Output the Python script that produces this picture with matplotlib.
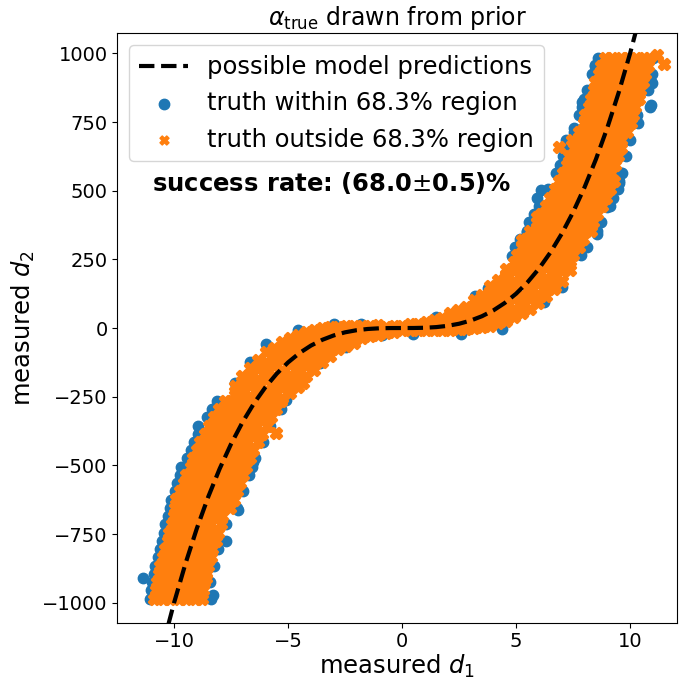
import matplotlib
matplotlib.use("Agg")
import matplotlib.pyplot as plt

# Model curve d2 = alpha * d1^3 (alpha = 1), tabulated
curve_d1 = [-10.5, -10.0, -9.5, -9.0, -8.5, -8.0, -7.5, -7.0, -6.5, -6.0, -5.5,
            -5.0, -4.5, -4.0, -3.5, -3.0, -2.5, -2.0, -1.5, -1.0, -0.5, 0.0,
            0.5, 1.0, 1.5, 2.0, 2.5, 3.0, 3.5, 4.0, 4.5, 5.0, 5.5, 6.0, 6.5,
            7.0, 7.5, 8.0, 8.5, 9.0, 9.5, 10.0, 10.5]
curve_d2 = [-1157.6, -1000.0, -857.4, -729.0, -614.1, -512.0, -421.9, -343.0,
            -274.6, -216.0, -166.4, -125.0, -91.1, -64.0, -42.9, -27.0, -15.6,
            -8.0, -3.4, -1.0, -0.1, 0.0, 0.1, 1.0, 3.4, 8.0, 15.6, 27.0, 42.9,
            64.0, 91.1, 125.0, 166.4, 216.0, 274.6, 343.0, 421.9, 512.0, 614.1,
            729.0, 857.4, 1000.0, 1157.6]

# Truths outside the 68.3% region: upper branch rows {d2: [d1, ...]}
outside_upper = {
    985: [8.9, 9.22, 9.58, 9.9, 10.27, 10.6, 10.82],
    955: [8.72, 9.08, 9.41, 9.77, 10.12, 10.46, 10.78],
    925: [8.63, 8.97, 9.33, 9.66, 10.02, 10.37, 10.66],
    895: [8.48, 8.86, 9.18, 9.55, 9.91, 10.24, 10.58],
    865: [8.42, 8.74, 9.12, 9.46, 9.79, 10.16, 10.43],
    835: [8.28, 8.66, 8.98, 9.36, 9.71, 10.02, 10.38],
    805: [8.18, 8.51, 8.87, 9.19, 9.56, 9.92, 10.22],
    775: [8.02, 8.41, 8.74, 9.11, 9.44, 9.8, 10.12],
    745: [7.97, 8.28, 8.66, 8.99, 9.37, 9.68, 10.03],
    715: [7.78, 8.16, 8.49, 8.86, 9.19, 9.57, 9.88],
    685: [7.47, 7.81, 8.17, 8.49, 8.86, 9.21, 9.58],
    655: [7.52, 7.86, 8.19, 8.56, 8.89, 9.27, 9.58],
    625: [7.33, 7.72, 8.04, 8.41, 8.74, 9.12, 9.47],
    595: [7.22, 7.54, 7.92, 8.24, 8.61, 8.94, 9.33],
    565: [7.04, 7.41, 7.73, 8.11, 8.44, 8.82, 9.18],
    535: [6.87, 7.19, 7.57, 7.89, 8.27, 8.59, 8.98, 9.28],
    505: [6.72, 7.04, 7.42, 7.74, 8.12, 8.44, 8.81, 9.13],
    475: [6.48, 6.86, 7.18, 7.56, 7.88, 8.26, 8.58, 8.94],
    445: [6.32, 6.64, 7.02, 7.34, 7.72, 8.04, 8.42, 8.78],
    415: [6.08, 6.46, 6.78, 7.16, 7.48, 7.86, 8.18, 8.57],
    385: [5.92, 6.24, 6.62, 6.94, 7.32, 7.64, 8.02, 8.38],
    355: [5.62, 5.96, 6.28, 6.66, 6.98, 7.36, 7.68, 8.06, 8.28],
    325: [5.44, 5.82, 6.14, 6.52, 6.84, 7.22, 7.54, 7.93],
    295: [5.26, 5.58, 5.96, 6.28, 6.66, 6.98, 7.36, 7.74],
    265: [5.04, 5.42, 5.74, 6.12, 6.44, 6.82, 7.14, 7.48],
}

# Lower branch rows {d2: [d1, ...]}
outside_lower = {
    -985: [-10.86, -10.48, -10.16, -9.78, -9.46, -9.08, -8.76],
    -955: [-10.78, -10.46, -10.08, -9.76, -9.38, -9.06, -8.72],
    -925: [-10.74, -10.38, -10.06, -9.68, -9.36, -8.98, -8.68],
    -895: [-10.68, -10.36, -9.98, -9.66, -9.28, -8.96, -8.58],
    -865: [-10.62, -10.24, -9.92, -9.54, -9.22, -8.84, -8.52],
    -835: [-10.48, -10.16, -9.78, -9.46, -9.08, -8.76, -8.38],
    -805: [-10.42, -10.04, -9.72, -9.34, -9.02, -8.64, -8.32],
    -775: [-10.28, -9.96, -9.58, -9.26, -8.88, -8.56, -8.18],
    -745: [-10.22, -9.84, -9.52, -9.14, -8.82, -8.44, -8.06],
    -715: [-10.08, -9.76, -9.38, -9.06, -8.68, -8.36, -7.96],
    -685: [-10.02, -9.64, -9.32, -8.94, -8.62, -8.24, -7.88],
    -655: [-9.94, -9.62, -9.24, -8.92, -8.54, -8.22, -7.84, -7.56],
    -625: [-9.86, -9.48, -9.16, -8.78, -8.46, -8.08, -7.76, -7.38],
    -595: [-9.72, -9.34, -9.02, -8.64, -8.32, -7.94, -7.62, -7.24],
    -565: [-9.58, -9.26, -8.88, -8.56, -8.18, -7.86, -7.48, -7.12],
    -535: [-9.46, -9.08, -8.76, -8.38, -8.06, -7.68, -7.36, -6.96],
    -505: [-9.28, -8.96, -8.58, -8.26, -7.88, -7.56, -7.18, -6.86],
    -475: [-9.16, -8.78, -8.46, -8.08, -7.76, -7.38, -7.06, -6.68],
    -445: [-8.98, -8.66, -8.28, -7.96, -7.58, -7.26, -6.88, -6.52],
    -415: [-8.86, -8.48, -8.16, -7.78, -7.46, -7.08, -6.76, -6.34],
    -385: [-8.64, -8.32, -7.94, -7.62, -7.24, -6.92, -6.54, -6.16],
    -355: [-8.46, -8.08, -7.76, -7.38, -7.06, -6.68, -6.36, -5.94],
    -325: [-8.24, -7.92, -7.54, -7.22, -6.84, -6.52, -6.14, -5.76],
    -295: [-8.02, -7.64, -7.32, -6.94, -6.62, -6.24, -5.92, -5.52],
    -265: [-7.78, -7.46, -7.08, -6.76, -6.38, -6.06, -5.68, -5.32],
}

# Central section columns {d1: [d2, ...]}
outside_middle = {
    -7.35: [-244, -212],
    -7.0: [-238, -206, -174],
    -6.65: [-246, -212, -178, -144],
    -6.3: [-252, -218, -184, -150, -116],
    -5.95: [-258, -224, -190, -156, -122, -88],
    -5.6: [-242, -208, -174, -140, -106, -72],
    -5.25: [-254, -220, -186, -152, -118, -84, -50],
    -4.9: [-238, -204, -170, -136, -102, -68, -36],
    -4.55: [-216, -186, -153, -120, -88, -56, -24],
    -4.2: [-174, -140, -108, -76, -44, -14],
    -3.85: [-152, -126, -98, -68, -36, -6],
    -3.5: [-122, -94, -60, -30, -1],
    -3.15: [-102, -76, -52, -24, 4],
    -2.8: [-78, -50, -24, 5],
    -2.45: [-66, -42, -18, 6],
    -2.1: [-54, -33, -13, 8],
    -1.75: [-38, -16, 7],
    -1.4: [-30, -11, 8],
    -1.05: [-24, -7, 10],
    -0.7: [-17, 5],
    -0.35: [-13, 8],
    0.0: [-9, 9],
    0.35: [-7, 13],
    0.7: [-6, 15],
    1.05: [-9, 7, 23],
    1.4: [-8, 11, 29],
    1.75: [-7, 15, 37],
    2.1: [-6, 17, 37, 54],
    2.45: [-5, 21, 45, 66],
    2.8: [-3, 23, 49, 76],
    3.15: [-1, 27, 55, 81, 102],
    3.5: [3, 33, 63, 93, 122],
    3.85: [9, 39, 71, 101, 129, 152],
    4.2: [17, 47, 79, 111, 143, 174],
    4.55: [27, 59, 91, 123, 156, 189, 216],
    4.9: [39, 71, 105, 139, 173, 207, 241],
    5.25: [53, 87, 121, 155, 189, 223, 253],
    5.6: [71, 105, 139, 173, 207, 241],
    5.95: [91, 125, 159, 193, 227, 257],
    6.3: [115, 149, 183, 217, 251],
    6.65: [143, 177, 211, 245],
    7.0: [173, 207, 241],
    7.35: [211, 245],
}

# Scattered outliers outside the region
outside_extra_d1 = [11.18, 11.48, 6.9, 5.93, 5.27, 6.7, -5.52, -4.35, -9.9, -8.58]
outside_extra_d2 = [994, 962, 660, 405, 320, 150, -384, -201, -623, -911]

# Truths within the 68.3% region
within_upper = {
    985: [8.58, 11.0], 955: [8.46], 925: [8.32, 10.98], 895: [10.92],
    865: [8.12, 10.78], 835: [7.96], 805: [7.88, 10.86], 775: [7.76, 10.3],
    745: [10.36], 715: [7.52], 685: [7.18, 9.98], 655: [7.3],
    625: [7.06, 9.82], 595: [6.92], 565: [6.76, 9.62], 535: [9.52],
    505: [6.42, 9.46], 475: [5.9, 9.24], 445: [6.0, 9.1], 415: [5.78],
    385: [5.56, 8.72], 355: [5.46, 8.56], 325: [5.18], 295: [4.96, 8.1],
    265: [7.84],
}
within_lower = {
    -985: [-11.06, -8.36], -955: [-11.02], -925: [-10.96, -8.44], -895: [-10.9],
    -865: [-10.84, -8.26], -835: [-10.72], -805: [-10.62, -8.08],
    -775: [-10.54, -7.74], -745: [-10.46], -715: [-10.38, -7.72],
    -685: [-10.26], -655: [-10.2, -7.22], -625: [-10.12], -595: [-9.98, -6.98],
    -565: [-9.86], -535: [-9.72, -6.72], -505: [-9.7, -6.6],
    -475: [-9.42, -6.46], -445: [-9.26], -415: [-9.12, -6.08], -385: [-8.96],
    -355: [-8.94, -5.78], -325: [-8.56], -295: [-8.32, -5.3], -265: [-8.12],
}
within_middle = {
    -7.35: [-200], -6.65: [-124], -5.95: [-58], -5.1: [-262], -4.55: [-8],
    -3.6: [-128], -3.0: [14], -2.45: [-70], -1.8: [16], -0.9: [-24],
    0.5: [-22], 1.5: [40], 2.6: [-20], 3.2: [116], 3.75: [146], 4.4: [-2],
    4.8: [262], 5.5: [348], 6.22: [94], 7.0: [150],
}
within_extra_d1 = [-11.36, -8.29, 10.96, 10.9, 10.24, 9.77, 9.5, 9.65, 8.49,
                   8.48, 7.9, 7.54, 6.08, 8.99, 8.56, 7.54, -6.54, -9.6, -7.2,
                   -3.55]
within_extra_d2 = [-911, -972, 891, 812, 775, 732, 527, 563, 357, 957, 824,
                   727, 502, 442, 344, 277, -487, -511, -663, -123]

success_text = r"success rate: (68.0$\pm$0.5)%"

BLUE = "#1f77b4"
ORANGE = "#ff7f0e"


def from_rows(rows):
    xs, ys = [], []
    for d2, d1s in rows.items():
        for d1 in d1s:
            xs.append(d1)
            ys.append(d2)
    return xs, ys


def from_cols(cols):
    xs, ys = [], []
    for d1, d2s in cols.items():
        for d2 in d2s:
            xs.append(d1)
            ys.append(d2)
    return xs, ys


def collect(row_sets, col_sets, extra_x, extra_y):
    xs, ys = [], []
    for r in row_sets:
        a, b = from_rows(r)
        xs += a
        ys += b
    for c in col_sets:
        a, b = from_cols(c)
        xs += a
        ys += b
    return xs + list(extra_x), ys + list(extra_y)


in_x, in_y = collect([within_upper, within_lower], [within_middle],
                     within_extra_d1, within_extra_d2)
out_x, out_y = collect([outside_upper, outside_lower], [outside_middle],
                       outside_extra_d1, outside_extra_d2)

fig = plt.figure(figsize=(6.79, 6.79), dpi=100)
ax = fig.add_axes([0.1728, 0.0829, 0.824, 0.868])

ax.plot(curve_d1, curve_d2, ls="--", color="black", lw=3,
        label="possible model predictions", zorder=3)
ax.scatter(in_x, in_y, s=56, marker="o", color=BLUE,
           label="truth within 68.3% region", zorder=1)
ax.scatter(out_x, out_y, s=58, marker="X", color=ORANGE, linewidths=2,
           zorder=2)
# legend entry for the outside points, drawn at the plain marker size
ax.scatter([], [], s=42, marker="X", color=ORANGE,
           label="truth outside 68.3% region")

ax.set_xlim(-12.49, 12.05)
ax.set_ylim(-1073, 1073)
ax.set_xticks([-10, -5, 0, 5, 10])
ax.set_yticks([-1000, -750, -500, -250, 0, 250, 500, 750, 1000])
ax.tick_params(labelsize=14)

ax.set_xlabel(r"measured $d_1$", fontsize=17.5, labelpad=1)
ax.set_ylabel(r"measured $d_2$", fontsize=17.5)
ax.set_title(r"$\alpha_{\rm true}$ drawn from prior", fontsize=17)

ax.legend(loc="upper left", fontsize=17.5)
ax.text(0.384, 0.746, success_text, transform=ax.transAxes, fontsize=17.5,
        fontweight="bold", ha="center", va="center")

fig.savefig("out.png", dpi=100)
